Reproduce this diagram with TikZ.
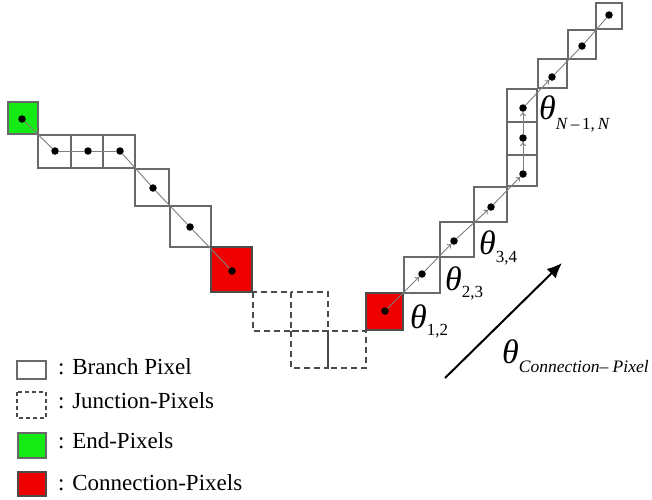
\documentclass[tikz,border=0pt]{standalone}
\usepackage{fontspec}
\setmainfont{Liberation Serif}
\usetikzlibrary{arrows.meta}
\definecolor{pixgreen}{RGB}{20,235,20}
\definecolor{pixred}{RGB}{238,0,0}
\definecolor{boxgray}{RGB}{105,105,105}
\definecolor{linegray}{RGB}{125,125,125}
\tikzset{
  pixbox/.style={draw=boxgray,line width=1.1pt},
  junbox/.style={draw=boxgray!70!black,line width=1.1pt,dash pattern=on 6pt off 4pt},
  endbox/.style={pixbox,fill=pixgreen},
  conbox/.style={pixbox,draw=black!70,fill=pixred},
  dot/.style={circle,fill=black,inner sep=0pt,minimum size=7.5pt},
  link/.style={draw=linegray,line width=0.9pt},
  alink/.style={link,-{To[length=4pt,width=6pt]}},
  legtext/.style={anchor=base west,inner sep=0pt,font=\fontsize{23}{24}\selectfont},
  thlabel/.style={anchor=base west,inner sep=0pt}
}
\newcommand{\thetalab}[2]{\fontsize{34}{35}\selectfont\textit{θ}\raisebox{-#2}{\fontsize{17}{18}\selectfont #1}}
\begin{document}
\begin{tikzpicture}[x=1pt,y=-1pt]
\useasboundingbox (0,0) rectangle (652,499);
% left branch squares
\draw[endbox] (8,102) rectangle (38,134);
\draw[pixbox] (38,135) rectangle (71,168);
\draw[pixbox] (71,135) rectangle (103,168);
\draw[pixbox] (103,135) rectangle (135,168);
\draw[pixbox] (135,169) rectangle (169,206);
\draw[pixbox] (170,206) rectangle (211,247);
\draw[conbox] (211,247) rectangle (252,292);
% junction pixels
\draw[junbox] (253,292) rectangle (291,331);
\draw[junbox] (291,292) rectangle (328,331);
\draw[junbox] (291,331) rectangle (328,368);
\draw[junbox] (328,331) rectangle (366,368);
% right branch squares
\draw[conbox] (366,293) rectangle (403,330);
\draw[pixbox] (404,257) rectangle (440,293);
\draw[pixbox] (440,222) rectangle (474,257);
\draw[pixbox] (474,187) rectangle (507,222);
\draw[pixbox] (507,155) rectangle (537,186);
\draw[pixbox] (507,122) rectangle (537,155);
\draw[pixbox] (507,89) rectangle (537,122);
\draw[pixbox] (538,59) rectangle (567,88);
\draw[pixbox] (568,30) rectangle (596,59);
\draw[pixbox] (596,3) rectangle (622,29);
% left dots
\node[dot] (l0) at (22,119) {};
\node[dot] (l1) at (55,151) {};
\node[dot] (l2) at (88,151) {};
\node[dot] (l3) at (120,151) {};
\node[dot] (l4) at (153,188) {};
\node[dot] (l5) at (190,227) {};
\node[dot] (l6) at (232,271) {};
\draw[link] (l0) -- (l1);
\draw[link] (l1) -- (l2);
\draw[link] (l2) -- (l3);
\draw[link] (l3) -- (l4);
\draw[link] (l4) -- (l5);
\draw[link] (l5) -- (l6);
% right dots
\node[dot] (r0) at (385,311) {};
\node[dot] (r1) at (422,274) {};
\node[dot] (r2) at (454,241) {};
\node[dot] (r3) at (491,207) {};
\node[dot] (r4) at (523,174) {};
\node[dot] (r5) at (523,138) {};
\node[dot] (r6) at (523,108) {};
\node[dot] (r7) at (552,77) {};
\node[dot] (r8) at (582,46) {};
\node[dot] (r9) at (609,15) {};
\draw[alink] (r0) -- (r1);
\draw[alink] (r1) -- (r2);
\draw[alink] (r2) -- (r3);
\draw[alink] (r3) -- (r4);
\draw[alink] (r4) -- (r5);
\draw[alink] (r5) -- (r6);
\draw[alink] (r6) -- (r7);
\draw[link] (r7) -- (r8);
\draw[link] (r8) -- (r9);
% angle labels
\node[thlabel] (t12) at (410,328) {\thetalab{1,2}{7pt}};
\node[thlabel] (t23) at (445,290) {\thetalab{2,3}{7pt}};
\node[thlabel] (t34) at (479,254) {\thetalab{3,4}{8pt}};
\node[thlabel] (tN) at (539,119) {\thetalab{\textit{N}\,–\,1,\,\textit{N}}{10pt}};
% big direction arrow
\coordinate (a0) at (445,378);
\coordinate (a1) at (562,263);
\draw[line width=2pt,-{Latex[length=15pt,width=13pt]}] (a0) -- (a1);
\node[thlabel] (tc) at (502,363) {\fontsize{34}{35}\selectfont\textit{θ}\raisebox{-9pt}{\fontsize{17.5}{19}\selectfont\textit{Connection– Pixel}}};
% legend
\draw[pixbox] (17,361) rectangle (46,379);
\node[legtext] (lg1) at (58,374) {: Branch Pixel};
\draw[junbox,dash pattern=on 4pt off 3pt] (17,392) rectangle (46,418);
\node[legtext] (lg2) at (58,408) {: Junction-Pixels};
\draw[endbox] (18,433) rectangle (46,458);
\node[legtext] (lg3) at (58,448) {: End-Pixels};
\draw[conbox] (18,472) rectangle (46,496);
\node[legtext] (lg4) at (58,490) {: Connection-Pixels};
\end{tikzpicture}
\end{document}
